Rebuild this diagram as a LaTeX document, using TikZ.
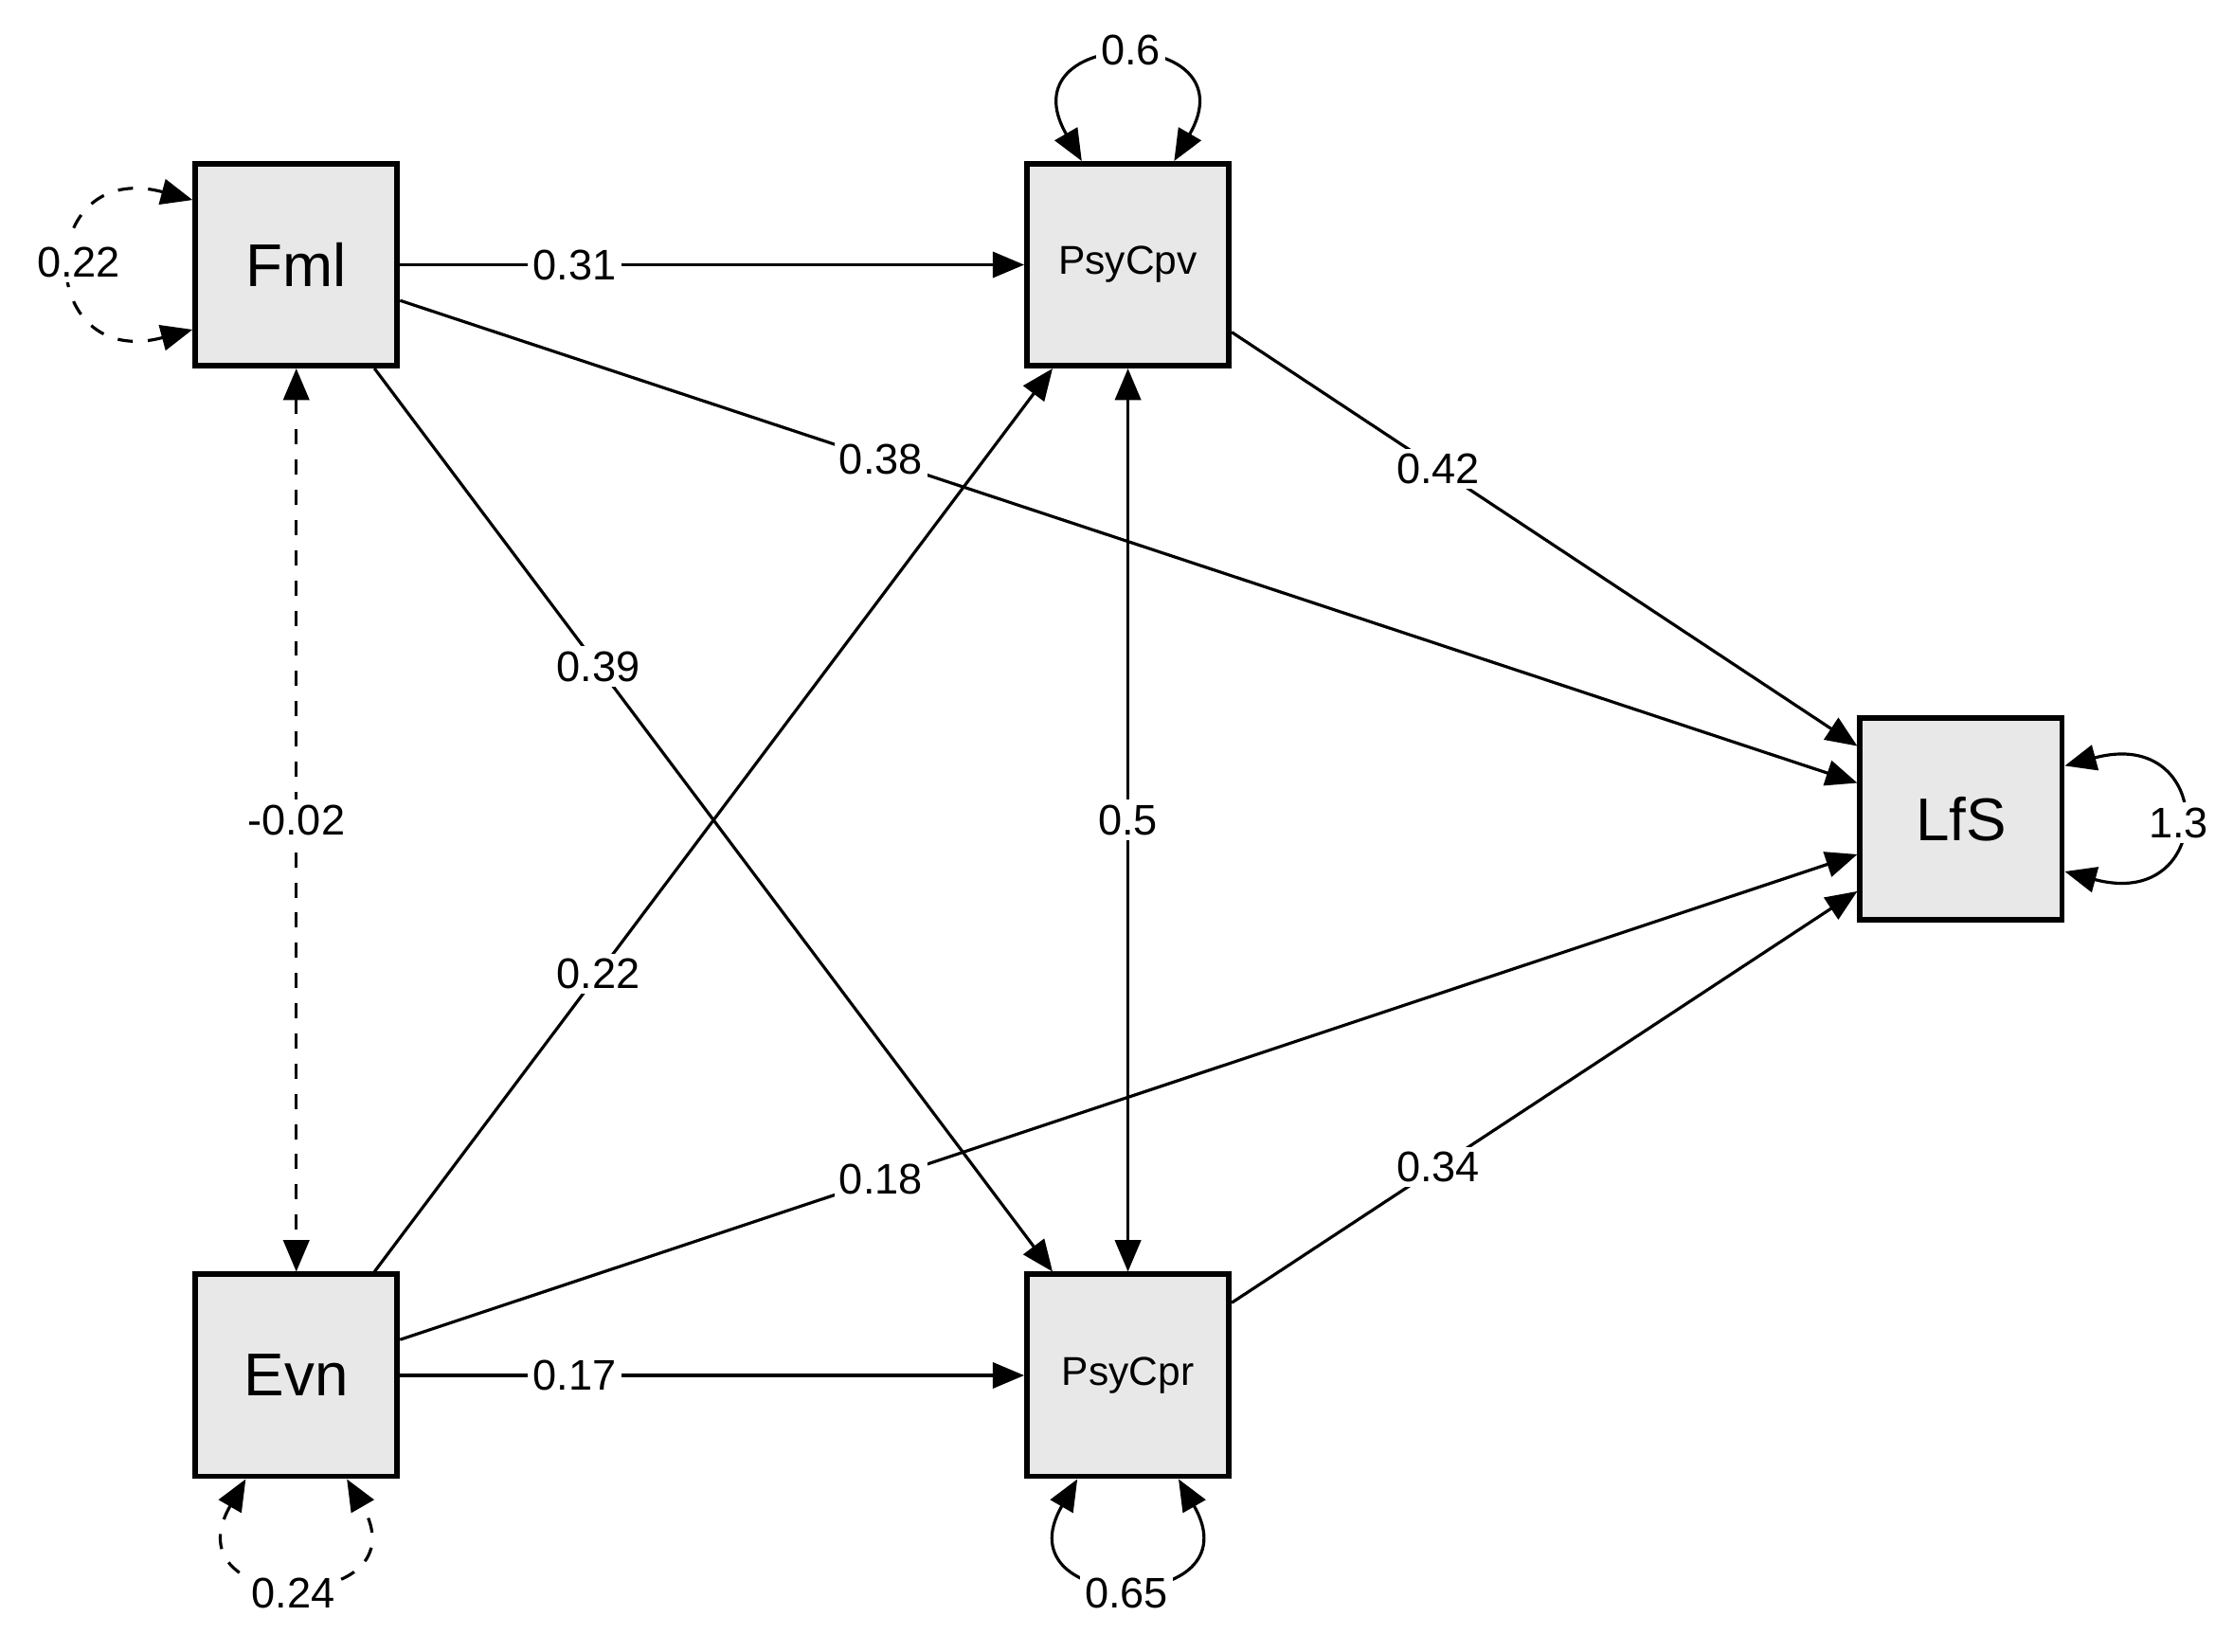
\documentclass[tikz,border=0pt]{standalone}
\usepackage{fontspec}
\setmainfont{Liberation Sans}
\usetikzlibrary{arrows.meta}
\begin{document}
\begin{tikzpicture}[x=0.01cm,y=0.01cm,
  var/.style={draw,line width=1.1pt,fill=gray!18,minimum size=1.41cm,inner sep=0pt},
  big/.style={font=\fontsize{12}{14}\selectfont},
  small/.style={font=\fontsize{8}{10}\selectfont},
  lab/.style={fill=white,inner sep=1pt,font=\fontsize{8.5}{10}\selectfont},
  arr/.style={line width=0.6pt,-{Triangle[length=2.2mm,width=1.8mm]}},
  darr/.style={line width=0.6pt,{Triangle[length=2.2mm,width=1.8mm]}-{Triangle[length=2.2mm,width=1.8mm]}}]
\useasboundingbox (0,0) rectangle (1560,-1154);
\node[var,big] (Fml) at (207,-185) {Fml};
\node[var,small] (Cpv) at (788,-185) {PsyCpv};
\node[var,big] (LfS) at (1370,-572) {LfS};
\node[var,big] (Evn) at (207,-961) {Evn};
\node[var,small] (Cpr) at (788,-961) {PsyCpr};

\draw[arr] (Fml.east) -- node[lab,pos=0.28]{0.31} (Cpv.west);
\draw[arr] (Fml.-19) -- node[lab,pos=0.33]{0.38} (LfS.161);
\draw[arr] (Fml.-53) -- node[lab,pos=0.33]{0.39} (Cpr.126);
\draw[darr,dashed] (Fml.south) -- node[lab]{-0.02} (Evn.north);
\draw[arr] (Evn.53) -- node[lab,pos=0.33]{0.22} (Cpv.-126);
\draw[arr] (Evn.19) -- node[lab,pos=0.33]{0.18} (LfS.199);
\draw[arr] (Evn.east) -- node[lab,pos=0.28]{0.17} (Cpr.west);
\draw[darr] (Cpv.south) -- node[lab]{0.5} (Cpr.north);
\draw[arr] (Cpv.-33) -- node[lab,pos=0.33]{0.42} (LfS.145);
\draw[arr] (Cpr.35) -- node[lab,pos=0.33]{0.34} (LfS.215);

\draw[darr,dashed] (Fml.148) .. controls +(165:115) and +(195:115) .. (Fml.212);
\node[lab] at (55,-183) {0.22};
\draw[darr] (Cpv.114) .. controls +(120:110) and +(60:110) .. (Cpv.66);
\node[lab] at (790,-35) {0.6};
\draw[darr] (LfS.27) .. controls +(15:110) and +(-15:110) .. (LfS.-27);
\node[lab] at (1522,-575) {1.3};
\draw[darr,dashed] (Evn.-116) .. controls +(-120:110) and +(-60:110) .. (Evn.-64);
\node[lab] at (205,-1113) {0.24};
\draw[darr] (Cpr.-116) .. controls +(-120:110) and +(-60:110) .. (Cpr.-64);
\node[lab] at (787,-1113) {0.65};
\end{tikzpicture}
\end{document}
